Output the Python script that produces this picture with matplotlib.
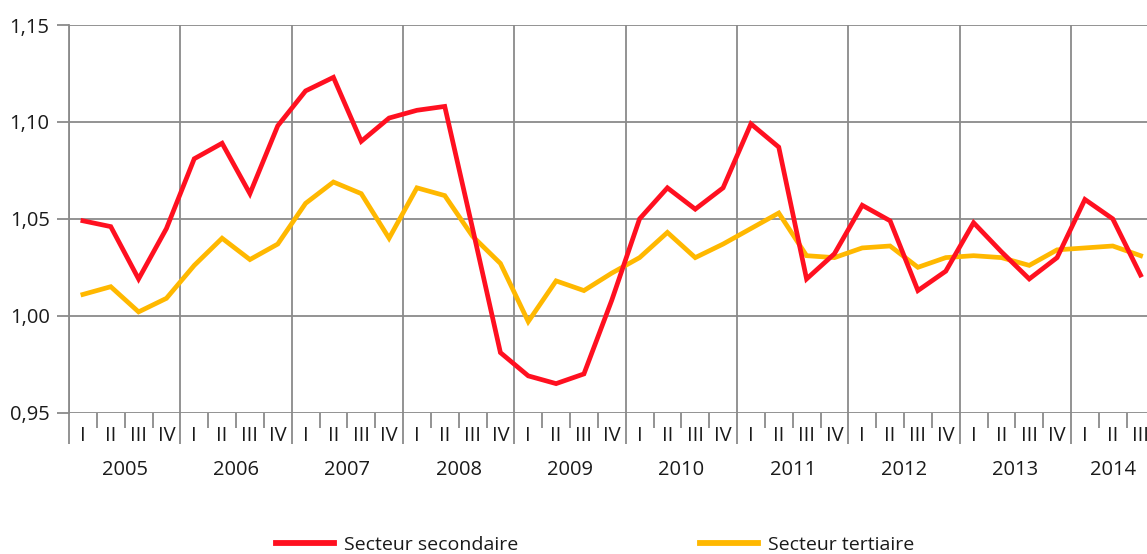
import matplotlib
matplotlib.use("Agg")
import matplotlib.pyplot as plt
import matplotlib.transforms as mtransforms
from matplotlib.lines import Line2D

plt.rcParams['font.family'] = ['Open Sans', 'DejaVu Sans']

years = ["2005", "2006", "2007", "2008", "2009", "2010", "2011", "2012", "2013", "2014"]
quarters = ["I", "II", "III", "IV"]

secondaire = [1.049, 1.046, 1.019, 1.045,
              1.081, 1.089, 1.063, 1.098,
              1.116, 1.123, 1.090, 1.102,
              1.106, 1.108, 1.045, 0.981,
              0.969, 0.965, 0.970, 1.008,
              1.050, 1.066, 1.055, 1.066,
              1.099, 1.087, 1.019, 1.032,
              1.057, 1.049, 1.013, 1.023,
              1.048, 1.033, 1.019, 1.030,
              1.060, 1.050, 1.021]
tertiaire = [1.011, 1.015, 1.002, 1.009,
             1.026, 1.040, 1.029, 1.037,
             1.058, 1.069, 1.063, 1.040,
             1.066, 1.062, 1.041, 1.027,
             0.997, 1.018, 1.013, 1.022,
             1.030, 1.043, 1.030, 1.037,
             1.045, 1.053, 1.031, 1.030,
             1.035, 1.036, 1.025, 1.030,
             1.031, 1.030, 1.026, 1.034,
             1.035, 1.036, 1.031]

series_names = ["Secteur secondaire", "Secteur tertiaire"]
colors = ["#FF1020", "#FFB800"]
grid_color = "#8a8a8a"
text_color = "#1a1a1a"

W, H = 1147, 554
fig = plt.figure(figsize=(W / 100, H / 100), dpi=100)
ax_left, ax_right, ax_top, ax_bottom = 69, 1147, 25, 412.7
ax = fig.add_axes([ax_left / W, 1 - ax_bottom / H, (ax_right - ax_left) / W, (ax_bottom - ax_top) / H])

n = len(secondaire)
x = [i + 0.5 for i in range(n)]
qwidth = (1071 - 69) / 36.0

ax.plot(x, tertiaire, color=colors[1], lw=3.4, solid_joinstyle='miter', zorder=3)
ax.plot(x, secondaire, color=colors[0], lw=3.4, solid_joinstyle='miter', zorder=4)

# y axis
yt = [0.95, 1.00, 1.05, 1.10, 1.15]
ax.set_yticks(yt)
ax.set_yticklabels([f"{v:.2f}".replace(".", ",") for v in yt], fontsize=14.5, color=text_color)
ax.tick_params(axis='y', length=9, width=1.3, color=grid_color, pad=5)

# x axis: year boundaries (major), quarter boundaries (minor)
year_bounds = [4 * k for k in range(len(years))]
ax.set_xticks(year_bounds)
ax.set_xticklabels([])
ax.set_xticks([i for i in range(n) if i % 4 != 0], minor=True)
ax.tick_params(axis='x', which='major', length=22, width=1.3, color=grid_color)
ax.tick_params(axis='x', which='minor', length=11, width=1.3, color=grid_color)

ax.set_xlim(0, (ax_right - ax_left) / qwidth)
ax.set_ylim(0.95, 1.15)

for yv in yt:
    ax.axhline(yv, color=grid_color, lw=1.3, zorder=1)
for xb in year_bounds:
    ax.axvline(xb, color=grid_color, lw=1.3, zorder=1)

for s in ["top", "right", "bottom"]:
    ax.spines[s].set_visible(False)
ax.spines["left"].set_color(grid_color)
ax.spines["left"].set_linewidth(1.3)

trans = mtransforms.blended_transform_factory(ax.transData, fig.transFigure)
for i in range(n):
    ax.text(i + 0.5, 1 - 436 / H, quarters[i % 4], transform=trans, ha='center', va='center',
            fontsize=14.5, color=text_color, clip_on=False)
for k, yr in enumerate(years):
    xc = 4 * k + 2
    if k == len(years) - 1:
        xc = 4 * k + 1.5
    ax.text(xc, 1 - 470 / H, yr, transform=trans, ha='center', va='center',
            fontsize=14.5, color=text_color, clip_on=False)

# legend
for name, c, xs in zip(series_names, colors, [276, 700]):
    h = Line2D([0], [0], color=c, lw=4.2)
    fig.legend([h], [name], loc='center left', bbox_to_anchor=(xs / W, 1 - 545 / H),
               frameon=False, fontsize=14, handlelength=3.0, handletextpad=0.5,
               borderpad=0, borderaxespad=0, labelcolor=text_color)

fig.savefig("out.png", dpi=100)
